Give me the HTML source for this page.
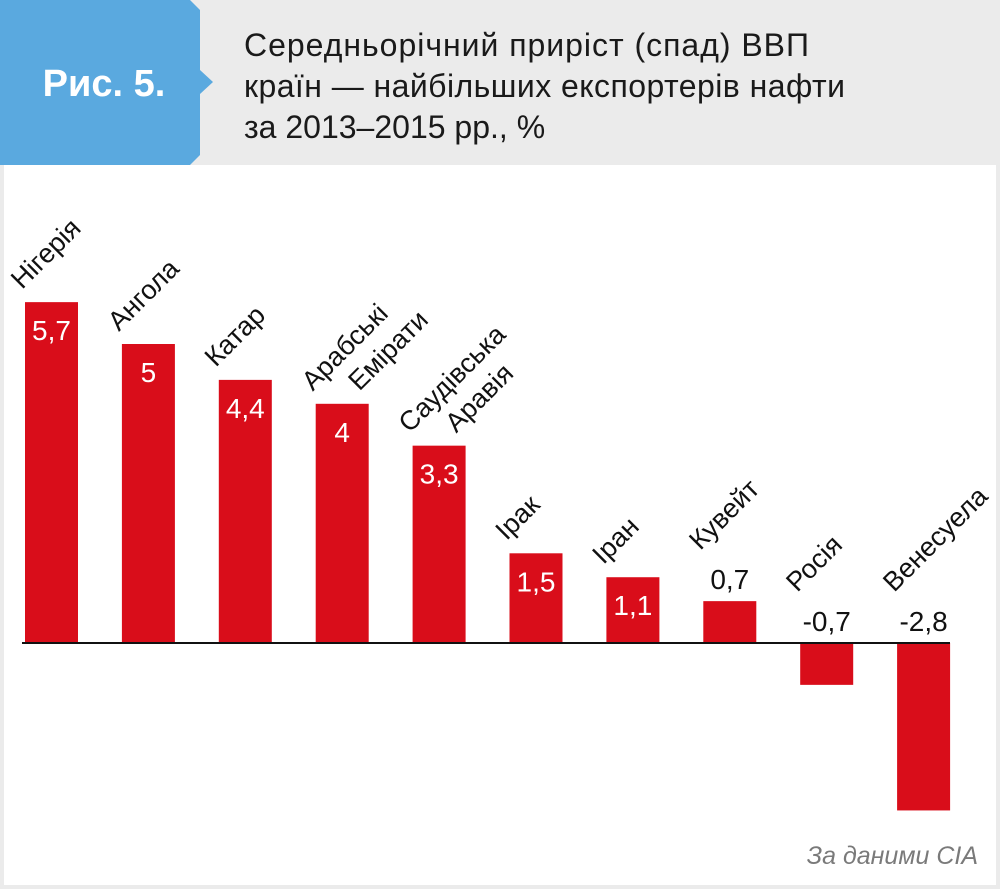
<!DOCTYPE html>
<html><head><meta charset="utf-8"><style>
body{margin:0;width:1000px;height:889px;overflow:hidden;background:#fff;font-family:"Liberation Sans","DejaVu Sans",sans-serif}
</style></head><body>
<svg width="1000" height="889" viewBox="0 0 1000 889">
<rect x="0" y="0" width="1000" height="889" fill="#ebebeb"/>
<rect x="4" y="165" width="992" height="720" fill="#fff"/>
<polygon points="0,0 190,0 200,10 200,70 213,82 200,94 200,155 190,165 0,165" fill="#5aa9df"/>
<text x="104" y="96" text-anchor="middle" font-size="38" font-weight="bold" fill="#fff">Рис. 5.</text>
<g font-size="32" fill="#1a1a1a">
<text x="244" y="56" textLength="565">Середньорічний приріст (спад) ВВП</text>
<text x="244" y="97" textLength="601">країн — найбільших експортерів нафти</text>
<text x="244" y="138">за 2013–2015 рр., %</text>
</g>
<g id="bars"></g>
<line x1="22" y1="643" x2="950" y2="643" stroke="#111" stroke-width="2"/>
<text x="978" y="864" text-anchor="end" font-size="25" font-style="italic" fill="#7a7a7a">За даними CIA</text>
</svg>
<script>
const countries=[["Нігерія"],["Ангола"],["Катар"],["Арабські","Емірати"],["Саудівська","Аравія"],["Ірак"],["Іран"],["Кувейт"],["Росія"],["Венесуела"]];
const values=[5.7,5,4.4,4,3.3,1.5,1.1,0.7,-0.7,-2.8];
const valueLabels=["5,7","5","4,4","4","3,3","1,5","1,1","0,7","-0,7","-2,8"];
const NS="http://www.w3.org/2000/svg";
const g=document.getElementById("bars");
const y0=643,scale=59.8,x0=25,step=96.9,bw=53;
function yS(v){return y0-v*scale;}
function xS(i){return x0+i*step;}
values.forEach((v,i)=>{
  const x=xS(i),top=Math.min(yS(v),y0),h=Math.abs(yS(v)-y0);
  const r=document.createElementNS(NS,"rect");
  r.setAttribute("x",x);r.setAttribute("y",top);r.setAttribute("width",bw);r.setAttribute("height",h);r.setAttribute("fill","#d90d1a");
  
  
  g.appendChild(r);
  const inside=v>=1;
  const t=document.createElementNS(NS,"text");
  t.setAttribute("x",x+bw/2);t.setAttribute("text-anchor","middle");t.setAttribute("font-size","28");
  let labelBase;
  if(inside){t.setAttribute("y",top+38);t.setAttribute("fill","#fff");labelBase=top-12;}
  else{t.setAttribute("y",y0-(v>0?h:0)-12);t.setAttribute("fill","#111");labelBase=y0-(v>0?h:0)-50;}
  t.textContent=valueLabels[i];
  
  
  g.appendChild(t);
  const lx=x-3,ly=labelBase;
  const c=document.createElementNS(NS,"text");
  c.setAttribute("font-size","27");c.setAttribute("fill","#111");
  const lines=countries[i];
  lines.forEach((s,k)=>{
    const sp=document.createElementNS(NS,"tspan");
    sp.setAttribute("x",k*33);sp.setAttribute("y",k*33-(lines.length-1)*33);
    sp.textContent=s;c.appendChild(sp);
  });
  c.setAttribute("transform","translate("+lx+","+ly+") rotate(-45)"+(lines.length>1?" translate(0,33)":""));
  
  
  g.appendChild(c);
});
</script>
</body></html>
